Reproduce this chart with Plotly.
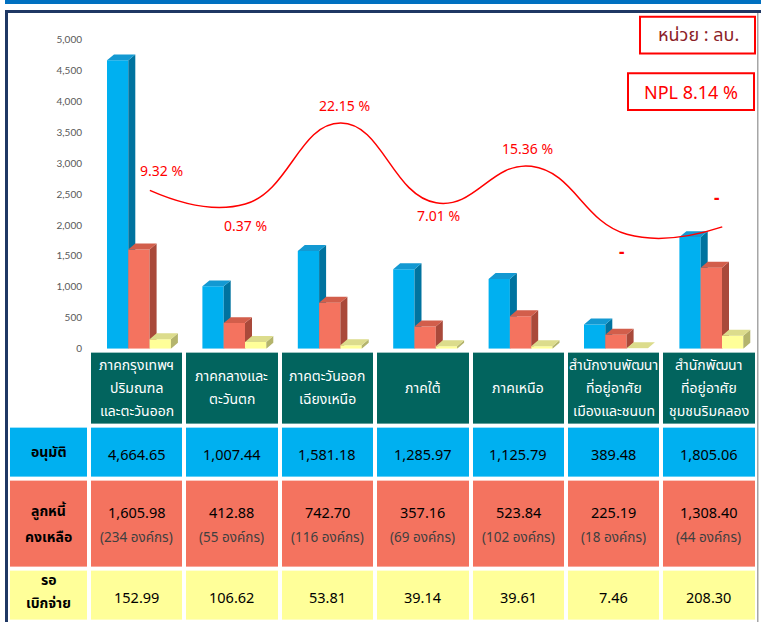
import plotly.graph_objects as go

# ---------------- data ----------------
regions = [
    ["ภาคกรุงเทพฯ", "ปริมณฑล", "และตะวันออก"],
    ["ภาคกลางและ", "ตะวันตก"],
    ["ภาคตะวันออก", "เฉียงเหนือ"],
    ["ภาคใต้"],
    ["ภาคเหนือ"],
    ["สำนักงานพัฒนา", "ที่อยู่อาศัย", "เมืองและชนบท"],
    ["สำนักพัฒนา", "ที่อยู่อาศัย", "ชุมชนริมคลอง"],
]
approved = [4664.65, 1007.44, 1581.18, 1285.97, 1125.79, 389.48, 1805.06]
outstanding = [1605.98, 412.88, 742.70, 357.16, 523.84, 225.19, 1308.40]
org_count = [234, 55, 116, 69, 102, 18, 44]
pending = [152.99, 106.62, 53.81, 39.14, 39.61, 7.46, 208.30]
npl_labels = ["9.32 %", "0.37 %", "22.15 %", "7.01 %", "15.36 %", "-", "-"]
# height of the hand-drawn NPL curve at each region (chart units)
npl_curve_level = [2560, 2340, 3650, 2360, 2950, 1850, 1970]
row_labels = [["อนุมัติ"], ["ลูกหนี้", "คงเหลือ"], ["รอ", "เบิกจ่าย"]]
unit_text = "หน่วย : ลบ."
npl_total = "NPL 8.14 %"
y_ticks = list(range(0, 5001, 500))

# ---------------- geometry helpers ----------------
W, H = 761, 628
C0, P = 136.5, 95.4          # pixel centre of first column, column pitch
Y0PX, PPU = 352, 312 / 5000  # pixel of value 0, pixels per unit


def xi(px):
    return (px - C0) / P


def px_x(px):
    return px / W


def px_y(py):
    return 1 - py / H


THAI = "Tahoma, 'Noto Sans Thai', 'Noto Sans', 'DejaVu Sans', sans-serif"
NUM = "'Noto Sans', Tahoma, 'DejaVu Sans', sans-serif"

fig = go.Figure()

# ---------------- table as heatmap ----------------
x_edges = [xi(8)] + [xi(89) + k for k in range(8)]
y_edges = [354, 430, 483.5, 574, 628]
n = len(regions)
z = [[None] + [0] * n, [1] * (n + 1), [2] * (n + 1), [3] * (n + 1)]
fig.add_trace(go.Heatmap(
    x=x_edges, y=y_edges, z=z, xaxis="x", yaxis="y2",
    zmin=-0.5, zmax=3.5, showscale=False, xgap=4, ygap=4, hoverinfo="skip",
    colorscale=[[0, "#02645E"], [0.25, "#02645E"], [0.25, "#00B0F0"], [0.5, "#00B0F0"],
                [0.5, "#F4735F"], [0.75, "#F4735F"], [0.75, "#FFFF99"], [1, "#FFFF99"]],
))

# ---------------- 3D bars as polygons ----------------
series = [
    (approved, -29.5, "#00B0F0", "#00739F", "#1399D2"),
    (outstanding, -8.2, "#F4735F", "#A9493A", "#D25E4B"),
    (pending, 13.1, "#FFFF99", "#B4B46C", "#DCDC8C"),
]
BW = 21.3
DX, DY = 7 / P, 6 / PPU


def add_poly(xs, ys, color):
    fig.add_trace(go.Scatter(x=xs, y=ys, mode="lines", fill="toself", fillcolor=color,
                             line=dict(width=0, color=color), hoverinfo="skip",
                             showlegend=False, xaxis="x", yaxis="y"))


for vals, off, cf, cs, ct in series:
    fx, fy, sx, sy, tx, ty = [], [], [], [], [], []
    for i, v in enumerate(vals):
        x0 = i + off / P
        x1 = x0 + BW / P
        fx += [x0, x1, x1, x0, x0, None]
        fy += [0, 0, v, v, 0, None]
        sx += [x1, x1 + DX, x1 + DX, x1, x1, None]
        sy += [0, DY, v + DY, v, 0, None]
        tx += [x0, x1, x1 + DX, x0 + DX, x0, None]
        ty += [v, v, v + DY, v + DY, v, None]
    add_poly(fx, fy, cf)
    add_poly(sx, sy, cs)
    add_poly(tx, ty, ct)

# ---------------- NPL curve ----------------
line_x = [i + 0.14 for i in range(n)]
fig.add_trace(go.Scatter(x=line_x, y=npl_curve_level, mode="lines",
                         line=dict(color="#FF0000", width=1.5, shape="spline", smoothing=1.3),
                         hoverinfo="skip", showlegend=False, xaxis="x", yaxis="y"))

ann = []
shifts = [(12, 20), (0, -21), (4, 18), (2, -13), (-4, 18), (-5, -17), (-6, 29)]
for i, lab in enumerate(npl_labels):
    is_dash = lab == "-"
    ann.append(dict(x=line_x[i], y=npl_curve_level[i], xref="x", yref="y",
                    text=f"<b>{lab}</b>" if is_dash else lab,
                    showarrow=False, xshift=shifts[i][0], yshift=shifts[i][1],
                    font=dict(family=NUM, size=17 if is_dash else 14, color="#FF0000")))

# ---------------- table text ----------------
for i, lines in enumerate(regions):
    k = len(lines)
    for j, t in enumerate(lines):
        ann.append(dict(x=i, y=392 + (j - (k - 1) / 2) * 23, xref="x", yref="y2", text=t,
                        showarrow=False, font=dict(family=THAI, size=14, color="white")))
    ann.append(dict(x=i, y=458, xref="x", yref="y2", text=f"{approved[i]:,.2f}",
                    showarrow=False, font=dict(family=NUM, size=14.5, color="black")))
    ann.append(dict(x=i, y=517, xref="x", yref="y2", text=f"{outstanding[i]:,.2f}",
                    showarrow=False, font=dict(family=NUM, size=14.5, color="black")))
    ann.append(dict(x=i, y=543, xref="x", yref="y2", text=f"({org_count[i]} องค์กร)",
                    showarrow=False, font=dict(family=THAI, size=13.5, color="#404040")))
    ann.append(dict(x=i, y=603, xref="x", yref="y2", text=f"{pending[i]:,.2f}",
                    showarrow=False, font=dict(family=NUM, size=14.5, color="black")))

label_x = xi(48.5)
row_y = [[457], [516, 543], [586, 609]]
for lines, ys in zip(row_labels, row_y):
    for t, yy in zip(lines, ys):
        ann.append(dict(x=label_x, y=yy, xref="x", yref="y2", text=f"<b>{t}</b>",
                        showarrow=False, font=dict(family=THAI, size=14, color="black")))

# ---------------- boxes ----------------
ann.append(dict(x=px_x(698), y=px_y(36), xref="paper", yref="paper", text=unit_text,
                xanchor="center", yanchor="middle",
                showarrow=False, font=dict(family=THAI, size=18, color="#8C1E28")))
ann.append(dict(x=px_x(691), y=px_y(93), xref="paper", yref="paper", text=npl_total,
                xanchor="center", yanchor="middle",
                showarrow=False, font=dict(family=NUM, size=18, color="#FF0000")))

shapes = [
    dict(type="rect", xref="paper", yref="paper", x0=px_x(5), x1=1, y0=px_y(4), y1=1,
         fillcolor="#0070C0", line=dict(width=0)),
    dict(type="rect", xref="paper", yref="paper", x0=px_x(5), x1=1, y0=px_y(13), y1=px_y(10),
         fillcolor="#1F3864", line=dict(width=0)),
    dict(type="rect", xref="paper", yref="paper", x0=px_x(5), x1=px_x(8), y0=0, y1=px_y(10),
         fillcolor="#1F3864", line=dict(width=0)),
    dict(type="rect", xref="paper", yref="paper", x0=px_x(757), x1=px_x(758.5), y0=0, y1=px_y(13),
         fillcolor="#A6A6A6", line=dict(width=0)),
    dict(type="rect", xref="paper", yref="paper", x0=px_x(640), x1=px_x(755), y0=px_y(54), y1=px_y(17),
         line=dict(color="#FF0000", width=2)),
    dict(type="rect", xref="paper", yref="paper", x0=px_x(628), x1=px_x(754), y0=px_y(111), y1=px_y(74),
         line=dict(color="#FF0000", width=2)),
]

fig.update_layout(
    width=W, height=H, margin=dict(l=0, r=0, t=0, b=0),
    paper_bgcolor="white", plot_bgcolor="rgba(0,0,0,0)", showlegend=False,
    xaxis=dict(range=[xi(0), xi(W)], visible=False, fixedrange=True),
    yaxis=dict(domain=[px_y(Y0PX), 1], range=[0, Y0PX / PPU], anchor="free", position=px_x(82),
               tickvals=y_ticks, ticktext=[f"{v:,}" for v in y_ticks], showgrid=False,
               zeroline=False, showline=False, ticks="",
               tickfont=dict(family="Lato, 'Open Sans', sans-serif", size=10, color="#595959")),
    yaxis2=dict(domain=[0, px_y(354)], range=[628, 354], visible=False),
    annotations=ann, shapes=shapes,
)

post = (
    "document.documentElement.style.margin='0';document.body.style.margin='0';"
    "document.documentElement.style.overflow='hidden';document.body.style.overflow='hidden';"
)
fig.write_html("out.html", config={"displayModeBar": False}, post_script=post)
